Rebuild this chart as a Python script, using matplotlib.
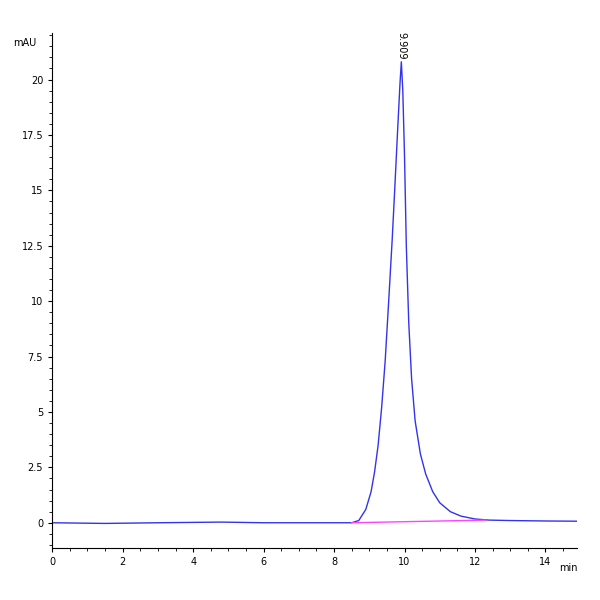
import matplotlib
matplotlib.use("Agg")
import matplotlib.pyplot as plt
from matplotlib.ticker import MultipleLocator

t = [0, 1.5, 3, 4.8, 6, 7.5, 8.5, 8.7, 8.9, 9.05, 9.15, 9.25, 9.35, 9.45, 9.55, 9.65, 9.72, 9.8, 9.87, 9.909,
     9.95, 10.0, 10.05, 10.12, 10.2, 10.3, 10.45, 10.6, 10.8, 11.0, 11.3, 11.6, 12.0, 12.4, 13.0, 14.0, 14.9]
y = [0, -0.03, 0.0, 0.03, 0.0, 0.0, 0.0, 0.1, 0.6, 1.4, 2.3, 3.5, 5.2, 7.3, 10.0, 12.8, 15.0, 17.6, 19.8, 20.8,
     19.5, 16.5, 12.5, 9.0, 6.5, 4.6, 3.1, 2.2, 1.4, 0.9, 0.5, 0.3, 0.17, 0.12, 0.1, 0.08, 0.07]
base_t = [8.5, 12.3]
base_y = [0.0, 0.12]

fig = plt.figure(figsize=(6, 6), dpi=100)
ax = fig.add_axes([0.087, 0.087, 0.875, 0.858])
ax.plot(t, y, color="#3333ee", lw=1)
ax.plot(base_t, base_y, color="#ff44ff", lw=1)
ax.set_xlim(0, 14.9)
ax.set_ylim(-1.13, 22.1)
for s in ["top", "right"]:
    ax.spines[s].set_visible(False)
ax.xaxis.set_major_locator(MultipleLocator(2))
ax.xaxis.set_minor_locator(MultipleLocator(0.5))
ax.yaxis.set_major_locator(MultipleLocator(2.5))
ax.yaxis.set_minor_locator(MultipleLocator(0.5))
ax.tick_params(labelsize=7, length=3)
ax.tick_params(which="minor", length=2)
ax.set_yticks([0, 2.5, 5, 7.5, 10, 12.5, 15, 17.5, 20])
ax.set_yticklabels(["0", "2.5", "5", "7.5", "10", "12.5", "15", "17.5", "20"])
ax.text(-0.03, 0.98, "mAU", transform=ax.transAxes, ha="right", va="center", fontsize=7)
ax.text(1.0, -0.04, "min", transform=ax.transAxes, ha="right", va="center", fontsize=7)
ax.text(9.909, 20.9, "9.909", rotation=-90, ha="center", va="bottom", fontsize=7)
fig.savefig("out.png")
